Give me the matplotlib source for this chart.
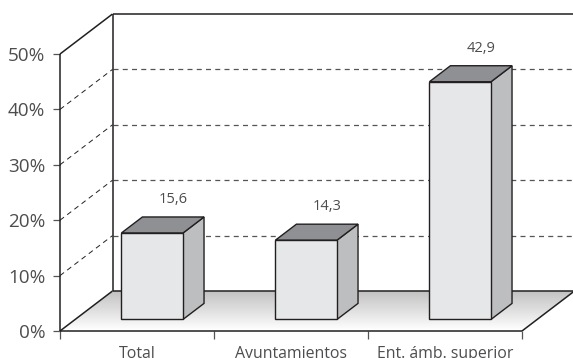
import numpy as np
import matplotlib
matplotlib.use("Agg")
import matplotlib.pyplot as plt
from matplotlib.patches import Polygon

categories = ["Total", "Ayuntamientos", "Ent. ámb. superior"]
values = [15.6, 14.3, 42.9]
value_labels = ["15,6", "14,3", "42,9"]
y_ticks = [0, 10, 20, 30, 40, 50]
y_labels = ["0%", "10%", "20%", "30%", "40%", "50%"]

W, H = 573, 358
LEFT, RIGHT, BOTTOM, TOP = 60, 522, 331, 54
DEPTH_X = 52.5 / ((RIGHT - LEFT) / 3)            # category units
DEPTH_Y = 40 / ((BOTTOM - TOP) / 50)             # percent units
INK = "#231f20"
TEXT = "#4d4d4f"

plt.rcParams["font.family"] = ["Open Sans", "DejaVu Sans"]


def proj(x, y, d):
    """Oblique projection: d=0 is the front plane, d=1 the back wall."""
    return (x + d * DEPTH_X, y + d * DEPTH_Y)


fig = plt.figure(figsize=(W / 100, H / 100), dpi=100)
ax = fig.add_axes([LEFT / W, (H - BOTTOM) / H, (RIGHT - LEFT) / W, (BOTTOM - TOP) / H])
ax.patch.set_visible(False)

# floor, fading from grey at the back to white at the front
floor = Polygon([proj(0, 0, 0), proj(3, 0, 0), proj(3, 0, 1), proj(0, 0, 1)],
                closed=True, transform=ax.transData, facecolor="none", edgecolor="none",
                clip_on=False)
ax.add_patch(floor)
grad = np.linspace(0.76, 1.0, 64).reshape(-1, 1)
im = ax.imshow(grad, cmap="gray", vmin=0, vmax=1, aspect="auto", origin="upper",
               extent=(0, 3 + DEPTH_X, 0, DEPTH_Y), zorder=1)
im.set_clip_box(fig.bbox)
im.set_clip_path(floor)

# dashed grid on the left wall and back wall
for t in y_ticks[1:-1]:
    x0, y0 = proj(0, t, 0)
    x1, y1 = proj(0, t, 1)
    x2, y2 = proj(3, t, 1)
    ax.plot([x0, x1], [y0, y1], color=INK, lw=0.7, dashes=(5.2, 4.1), clip_on=False, zorder=2)
    ax.plot([x1, x2], [y1, y2], color="#555555", lw=0.9, dashes=(4.0, 3.4), clip_on=False, zorder=2)

# solid frame
frame = [
    ([0, 0], [0, 50], 0, 0),
    ([0, 0], [0, 50], 1, 1),
    ([0, 0], [50, 50], 0, 1),
    ([0, 0], [0, 0], 0, 1),
    ([0, 3], [0, 0], 1, 1),
    ([0, 3], [50, 50], 1, 1),
    ([3, 3], [0, 0], 0, 1),
    ([0, 3], [0, 0], 0, 0),
]
for xs, ys, d0, d1 in frame:
    p0 = proj(xs[0], ys[0], d0)
    p1 = proj(xs[1], ys[1], d1)
    ax.plot([p0[0], p1[0]], [p0[1], p1[1]], color=INK, lw=1.1, clip_on=False,
            solid_capstyle="butt", zorder=3)

# bars
BAR_W = 0.4
D_FRONT, D_BACK = 0.29, 0.69
for i, v in enumerate(values):
    x0 = i + 0.5 - BAR_W / 2
    x1 = x0 + BAR_W
    front = [proj(x0, 0, D_FRONT), proj(x1, 0, D_FRONT), proj(x1, v, D_FRONT), proj(x0, v, D_FRONT)]
    side = [proj(x1, 0, D_FRONT), proj(x1, 0, D_BACK), proj(x1, v, D_BACK), proj(x1, v, D_FRONT)]
    top = [proj(x0, v, D_FRONT), proj(x1, v, D_FRONT), proj(x1, v, D_BACK), proj(x0, v, D_BACK)]
    for pts, col in ((side, "#bcbec0"), (top, "#8f9093"), (front, "#e6e7e8")):
        ax.add_patch(Polygon(pts, closed=True, facecolor=col, edgecolor=INK, lw=1.0,
                             joinstyle="miter", clip_on=False, zorder=4))
    lx, ly = proj(i + 0.5, v, 0.69)
    ax.annotate(value_labels[i], xy=(lx, ly), xytext=(0, 7), textcoords="offset points",
                ha="center", va="bottom", fontsize=10.5, color=TEXT, annotation_clip=False)

ax.set_xlim(0, 3)
ax.set_ylim(0, 50)
ax.set_yticks(y_ticks, y_labels)
ax.set_xticks([0, 1, 2, 3], [""] * 4)
ax.set_xticks([0.5, 1.5, 2.5], categories, minor=True)
ax.tick_params(axis="y", length=5, width=0.9, color="#555555", labelcolor=TEXT, labelsize=13.6, pad=5.5)
ax.tick_params(axis="x", which="major", length=6, width=0.9, color="#555555")
ax.tick_params(axis="x", which="minor", length=0, labelcolor=TEXT, labelsize=11.4, pad=10.5)
for s in ax.spines.values():
    s.set_visible(False)

fig.savefig("out.png", dpi=100, facecolor="white")
